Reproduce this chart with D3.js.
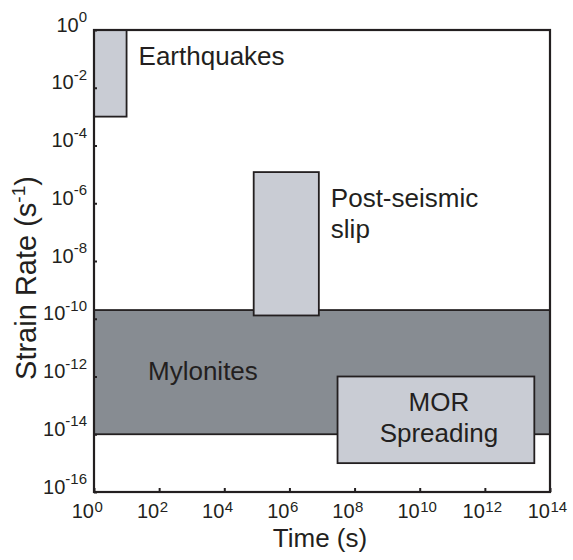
<!DOCTYPE html>
<html>
<head>
<meta charset="utf-8">
<script src="https://cdn.jsdelivr.net/npm/d3@7"></script>
<style>
  body { margin: 0; background: #fff; }
  text { font-family: "Liberation Sans", Arial, sans-serif; fill: #231f20; }
</style>
</head>
<body>
<div id="chart"></div>
<script>
// regimes of deformation, boxes in time (s) vs strain rate (1/s)
var regimes  = ["Mylonites", "Earthquakes", "Post-seismic slip", "MOR Spreading"];
var timeMin  = [1e0, 1e0, 8e4, 3e7];
var timeMax  = [1e14, 1e1, 8e6, 3.3e13];
var rateMin  = [1e-14, 1e-3, 1.3e-10, 1e-15];
var rateMax  = [2e-10, 1e0, 1.2e-5, 1e-12];

// tick exponents
var xTickExp = [0, 2, 4, 6, 8, 10, 12, 14];
var yTickExp = [0, -2, -4, -6, -8, -10, -12, -14, -16];

var margin = {top: 30, right: 23, bottom: 68, left: 94},
    width = 573 - margin.left - margin.right,
    height = 560 - margin.top - margin.bottom;

var svg = d3.select("#chart")
  .append("svg")
    .attr("width", 573)
    .attr("height", 560)
  .append("g")
    .attr("transform", "translate(" + margin.left + "," + margin.top + ")");

var x = d3.scaleLog().domain([1e0, 1e14]).range([0, width]);
var y = d3.scaleLog().domain([1e-16, 1e0]).range([height, 0]);

var data = regimes.map(function(d, i) {
  return {name: d, t0: timeMin[i], t1: timeMax[i], r0: rateMin[i], r1: rateMax[i]};
});

var fills = {"Mylonites": "#878c92", "Earthquakes": "#c9ccd4",
             "Post-seismic slip": "#c9ccd4", "MOR Spreading": "#c9ccd4"};

svg.selectAll(".box")
  .data(data)
  .enter().append("rect")
  .attr("class", "box")
  .attr("x", function(d) { return x(d.t0); })
  .attr("width", function(d) { return x(d.t1) - x(d.t0); })
  .attr("y", function(d) { return y(d.r1); })
  .attr("height", function(d) { return y(d.r0) - y(d.r1); })
  .attr("fill", function(d) { return fills[d.name]; })
  .attr("stroke", "#231f20")
  .attr("stroke-width", 1.8);

// frame
svg.append("rect")
  .attr("width", width)
  .attr("height", height)
  .attr("fill", "none")
  .attr("stroke", "#231f20")
  .attr("stroke-width", 2.2);

// x axis, inward ticks
var xAxis = svg.append("g")
  .attr("transform", "translate(0," + height + ")")
  .call(d3.axisBottom(x)
    .tickValues(xTickExp.map(function(e) { return Math.pow(10, e); }))
    .tickSize(-4)
    .tickFormat(""));
xAxis.select(".domain").remove();
xAxis.selectAll(".tick line").attr("stroke", "#231f20").attr("stroke-width", 2);

var xLab = svg.append("g").attr("transform", "translate(0," + height + ")");
xTickExp.forEach(function(e) {
  var px = x(Math.pow(10, e));
  xLab.append("text")
    .attr("x", px)
    .attr("y", 26)
    .attr("text-anchor", "end")
    .style("font-size", "20px")
    .text("10");
  xLab.append("text")
    .attr("x", px + 0.5)
    .attr("y", 19.5)
    .attr("text-anchor", "start")
    .style("font-size", "15px")
    .text(e);
});

// y axis
var yAxis = svg.append("g")
  .call(d3.axisLeft(y)
    .tickValues(yTickExp.map(function(e) { return Math.pow(10, e); }))
    .tickSize(-3)
    .tickFormat(""));
yAxis.select(".domain").remove();
yAxis.selectAll(".tick line").attr("stroke", "#231f20").attr("stroke-width", 2);

yTickExp.forEach(function(e) {
  var t = svg.append("text")
    .attr("x", -7)
    .attr("y", y(Math.pow(10, e)) + 1.5)
    .attr("text-anchor", "end")
    .style("font-size", "20px");
  t.append("tspan").text("10");
  t.append("tspan")
    .attr("dy", -9.5)
    .style("font-size", "15px")
    .text(e === 0 ? "0" : "-" + Math.abs(e));
});

// axis titles
svg.append("text")
  .attr("x", width / 2 - 2)
  .attr("y", height + 55)
  .attr("text-anchor", "middle")
  .style("font-size", "26px")
  .text("Time (s)");

var yt = svg.append("text")
  .attr("transform", "translate(" + (36 - margin.left) + "," + (278 - margin.top) + ") rotate(-90)")
  .attr("text-anchor", "middle")
  .style("font-size", "29px");
yt.append("tspan").text("Strain Rate (s");
yt.append("tspan").attr("dy", -11).style("font-size", "19px").text("-1");
yt.append("tspan").attr("dy", 11).text(")");

// box labels
function box(name) { return data.filter(function(d) { return d.name == name; })[0]; }

var eq = box("Earthquakes");
svg.append("text")
  .attr("x", x(eq.t1) + 12)
  .attr("y", y(eq.r1) + 35)
  .style("font-size", "26px")
  .text("Earthquakes");

var ps = box("Post-seismic slip");
svg.append("text")
  .attr("x", x(ps.t1) + 12)
  .attr("y", y(ps.r1) + 35)
  .style("font-size", "26px")
  .text("Post-seismic");
svg.append("text")
  .attr("x", x(ps.t1) + 12)
  .attr("y", y(ps.r1) + 66)
  .style("font-size", "26px")
  .text("slip");

var my = box("Mylonites");
svg.append("text")
  .attr("x", 54)
  .attr("y", y(my.r1) + 70)
  .style("font-size", "26px")
  .text("Mylonites");

var mor = box("MOR Spreading");
var mx = (x(mor.t0) + x(mor.t1)) / 2 + 3;
svg.append("text")
  .attr("x", mx)
  .attr("y", y(mor.r1) + 34)
  .attr("text-anchor", "middle")
  .style("font-size", "26px")
  .text("MOR");
svg.append("text")
  .attr("x", mx)
  .attr("y", y(mor.r1) + 65)
  .attr("text-anchor", "middle")
  .style("font-size", "26px")
  .text("Spreading");
</script>
</body>
</html>
